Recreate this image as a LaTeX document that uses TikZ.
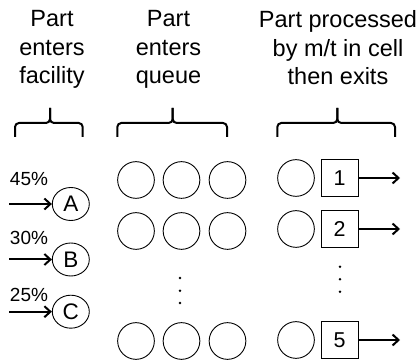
\documentclass[tikz,border=0pt]{standalone}
\usepackage{fontspec}
\setmainfont{Liberation Sans}
\usetikzlibrary{arrows.meta,shapes.geometric}
\begin{document}
\begin{tikzpicture}[x=1pt,y=-1pt,
 hdr/.style={align=center,anchor=north,font=\fontsize{23.5}{28.4}\selectfont,inner sep=0},
 qc/.style={circle,draw,line width=0.9pt,minimum size=36.7pt,inner sep=0},
 src/.style={ellipse,draw,line width=0.9pt,minimum width=37pt,minimum height=33pt,inner sep=0,font=\fontsize{22.5}{24}\selectfont},
 mt/.style={rectangle,draw,line width=0.9pt,minimum size=37pt,inner sep=0,font=\fontsize{21.5}{24}\selectfont},
 pct/.style={font=\fontsize{19}{20}\selectfont,inner sep=0},
 flow/.style={line width=2pt,-{Straight Barb[length=6pt,width=11pt]}},
 brc/.style={line width=2pt,rounded corners=4pt},
 vdot/.style={circle,fill,minimum size=2.8pt,inner sep=0}]
\useasboundingbox (0,0) rectangle (418,363);
% headers
\node[hdr] (h1) at (52,10.5) {Part\\enters\\facility};
\node[hdr] (h2) at (168.5,10.5) {Part\\enters\\queue};
\node[hdr] (h3) at (338,10.5) {Part processed\\by m/t in cell\\then exits};
% braces
\draw[brc] (15,137) -- (15,123) -- (50,123) -- (50,108);
\draw[brc] (82.7,137) -- (82.7,123) -- (50,123) -- (50,108);
\draw[brc] (117.3,137) -- (117.3,123) -- (172.7,123) -- (172.7,108);
\draw[brc] (227,137) -- (227,123) -- (172.7,123) -- (172.7,108);
\draw[brc] (277.3,137) -- (277.3,123) -- (337.3,123) -- (337.3,108);
\draw[brc] (395,137) -- (395,123) -- (337.3,123) -- (337.3,108);
% sources
\node[src] (A) at (70.8,204) {A};
\node[src] (B) at (70.8,259.5) {B};
\node[src] (C) at (70.8,311.7) {C};
\coordinate (sA) at (9.3,204);
\coordinate (sB) at (9.3,259.5);
\coordinate (sC) at (9.3,311.7);
\draw[flow] (sA) -- (A.west);
\draw[flow] (sB) -- (B.west);
\draw[flow] (sC) -- (C.west);
\node[pct] (pA) at (29,179) {45\%};
\node[pct] (pB) at (29,237.5) {30\%};
\node[pct] (pC) at (29,294.5) {25\%};
% queue
\foreach \r/\y in {1/180,2/231,3/341}{
  \node[qc] (q\r a) at (136,\y) {};
  \node[qc] (q\r b) at (181.5,\y) {};
  \node[qc] (q\r c) at (227.5,\y) {};
}
\node[vdot] (qd1) at (180,278) {};
\node[vdot] (qd2) at (180,290.7) {};
\node[vdot] (qd3) at (180,303) {};
% machines
\foreach \n/\y in {1/178,2/229,5/340}{
  \node[qc] (w\n) at (296,\y) {};
  \node[mt] (m\n) at (339.5,\y) {\n};
  \coordinate (e\n) at (400,\y);
  \draw[flow] (m\n.east) -- (e\n);
}
\node[vdot] (md1) at (340,266.7) {};
\node[vdot] (md2) at (340,279.3) {};
\node[vdot] (md3) at (340,291.7) {};
\end{tikzpicture}
\end{document}
